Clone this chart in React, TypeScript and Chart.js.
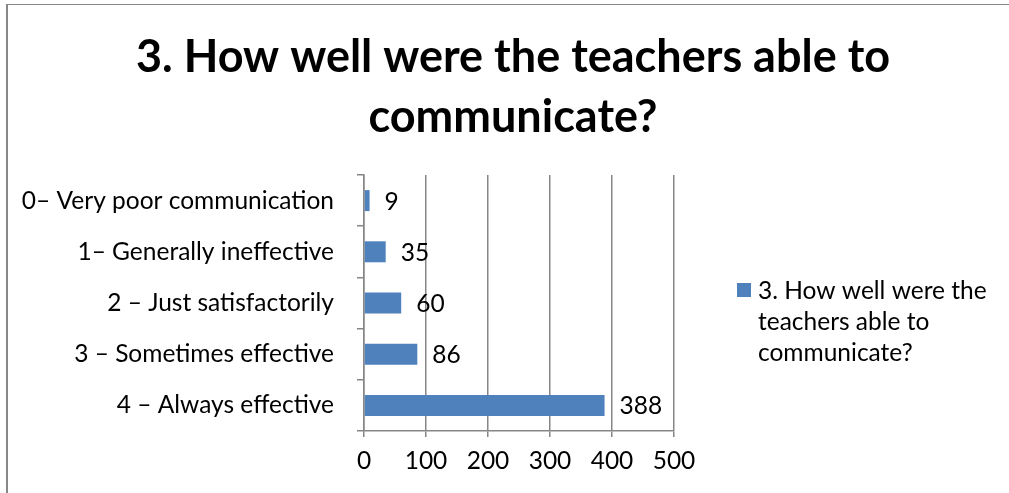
import React, { useEffect, useRef } from "react";
import { Chart, registerables } from "chart.js";

Chart.register(...registerables);

const titleLines = ["3. How well were the teachers able to", "communicate?"];
const categories = [
  "0– Very poor communication",
  "1– Generally ineffective",
  "2 – Just satisfactorily",
  "3 – Sometimes effective",
  "4 – Always effective",
];
const values = [9, 35, 60, 86, 388];
const seriesName = "3. How well were the teachers able to communicate?";
const legendLines = ["3. How well were the", "teachers able to", "communicate?"];
const xMin = 0;
const xMax = 500;
const xStep = 100;

const FONT = "Lato, 'Open Sans', sans-serif";
const FS = 24.5;
const BAR = "#4F81BD";
const GRID = "#868686";

export default function App() {
  const ref = useRef<HTMLCanvasElement | null>(null);

  useEffect(() => {
    if (!ref.current) return;
    const extras = {
      id: "extras",
      afterDatasetsDraw(chart: any) {
        const ctx = chart.ctx;
        const meta = chart.getDatasetMeta(0);
        ctx.save();
        ctx.fillStyle = "#000";
        ctx.font = `${FS}px ${FONT}`;
        ctx.textAlign = "left";
        ctx.textBaseline = "middle";
        meta.data.forEach((bar: any, i: number) => {
          ctx.fillText(String(values[i]), bar.x + 15, bar.y + 1);
        });
        ctx.restore();
      },
      afterDraw(chart: any) {
        const ctx = chart.ctx;
        ctx.save();
        // title
        ctx.fillStyle = "#000";
        ctx.font = `bold 45px ${FONT}`;
        ctx.textAlign = "center";
        ctx.textBaseline = "middle";
        const cx = 505;
        titleLines.forEach((t, i) => ctx.fillText(t, cx, 52 + i * 60));
        // legend
        ctx.fillStyle = BAR;
        ctx.fillRect(729, 278, 14, 14);
        ctx.fillStyle = "#000";
        ctx.font = `${FS}px ${FONT}`;
        ctx.textAlign = "left";
        legendLines.forEach((t, i) => ctx.fillText(t, 750, 286 + i * 31));
        ctx.restore();
      },
    };

    const chart = new Chart(ref.current, {
      type: "bar",
      data: {
        labels: categories,
        datasets: [
          {
            label: seriesName,
            data: values,
            backgroundColor: BAR,
            borderWidth: 0,
            categoryPercentage: 1,
            barPercentage: 0.41,
          },
        ],
      },
      options: {
        indexAxis: "y",
        animation: false,
        responsive: false,
        maintainAspectRatio: false,
        layout: { padding: { top: 170, right: 335, bottom: 23, left: 0 } },
        plugins: {
          legend: { display: false },
          title: { display: false },
          tooltip: { enabled: false },
        },
        scales: {
          x: {
            min: xMin,
            max: xMax,
            ticks: {
              stepSize: xStep,
              color: "#000",
              font: { family: FONT, size: FS },
              padding: 9,
              maxRotation: 0,
            },
            grid: {
              color: GRID,
              lineWidth: 1.5,
              drawTicks: true,
              tickLength: 6,
            },
            border: { display: true, color: GRID, width: 1.5 },
            afterFit(scale: any) {
              scale.height = 40;
            },
          },
          y: {
            ticks: {
              color: "#000",
              font: { family: FONT, size: FS },
              padding: 23,
              autoSkip: false,
            },
            grid: {
              drawOnChartArea: false,
              drawTicks: true,
              tickLength: 7,
              offset: true,
              color: GRID,
              lineWidth: 1.5,
            },
            border: { display: true, color: GRID, width: 1.5 },
            afterFit(scale: any) {
              scale.width = 356;
            },
          },
        },
      },
      plugins: [extras],
    });
    return () => chart.destroy();
  }, []);

  return (
    <div
      style={{
        position: "fixed",
        left: 6,
        top: 4,
        width: 1001,
        height: 489,
        borderLeft: "2px solid #888",
        borderTop: "1px solid #888",
        background: "#fff",
        overflow: "hidden",
      }}
    >
      <canvas ref={ref} width={1001} height={489} style={{ display: "block" }} />
    </div>
  );
}
